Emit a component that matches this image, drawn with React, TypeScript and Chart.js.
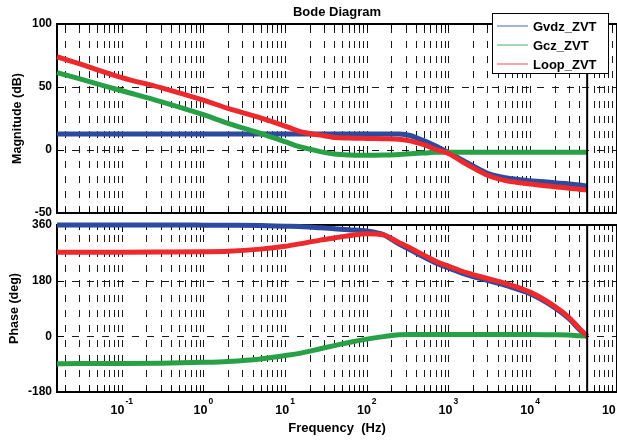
import React, { useEffect, useRef } from 'react';
import { Chart, registerables } from 'chart.js';

Chart.register(...registerables);

const FONT = "'Liberation Sans', Arial, Helvetica, sans-serif";

// ---- data ----
const freqHz = [0.0161, 0.03, 0.1, 0.3, 1, 2, 5, 10, 15, 27, 40, 60, 100, 160, 250, 340, 420, 550, 700, 1000, 1700, 3000, 5000, 10000, 20000, 30000, 40000, 50000];

const gvdzMagDb = [12.7, 12.7, 12.7, 12.7, 12.7, 12.7, 12.7, 12.7, 12.7, 12.7, 12.7, 12.7, 12.7, 12.7, 12.6, 11.5, 9.3, 6.3, 3.2, -2, -10.1, -18.5, -22, -24.4, -25.9, -27, -27.8, -28.6];
const gczMagDb = [61.4, 56.6, 47, 38.4, 28, 21.2, 13.2, 6.6, 2.6, -1.3, -3.2, -4, -4.2, -4, -3.5, -3, -2.6, -2.3, -1.8, -1.8, -1.8, -1.8, -1.8, -1.8, -1.8, -1.8, -1.8, -1.8];
const loopMagDb = [74, 68.5, 57.5, 49.5, 39.5, 33, 25.5, 19, 14.8, 11.8, 10, 9.5, 9.2, 9, 8.5, 7.2, 5.6, 3.2, 0.5, -2.8, -11.6, -20, -24.3, -27, -29.1, -30.4, -31.1, -31.7];

const gvdzPhaseDeg = [360, 360, 360, 360, 359.5, 359, 358, 356, 355, 351, 348, 345, 341, 329, 298, 280, 267, 251, 237, 221, 199, 181, 165, 138, 93, 57, 22, -1];
const gczPhaseDeg = [-88.5, -88, -88, -87, -84, -81, -73, -62, -55, -40, -30, -20, -9, -1, 5, 6, 6, 6, 6, 6, 6, 6, 6, 6, 5, 4, 2, 1];
const loopPhaseDeg = [271.5, 272, 272, 272.5, 273.5, 275, 282, 291, 299, 311, 318, 325, 332, 328, 303, 286, 273, 257, 243, 227, 205, 187, 171, 143, 97, 61, 26, 1];

const seriesLabels = ['Gvdz_ZVT', 'Gcz_ZVT', 'Loop_ZVT'];
const seriesColors = ['#2c4aa0', '#27a046', '#ec2a2e'];
const legendColors = ['#8796d6', '#84cc94', '#f38a8c'];

const magTicks = [-50, 0, 50, 100];
const phaseTicks = [-180, 0, 180, 360];
const decadeExponents = [-1, 0, 1, 2, 3, 4, 5];
const freqMin = 0.0161;
const freqMax = 116000;
const endFreqHz = 50000;

const chartTitle = 'Bode Diagram';
const magTitle = 'Magnitude (dB)';
const phaseTitle = 'Phase (deg)';
const freqTitle = 'Frequency  (Hz)';

// grid positions for a log axis (1..9 x 10^k)
const gridLines: { v: number; major: boolean }[] = [];
for (let k = -2; k <= 5; k++) {
  for (let m = 1; m <= 9; m++) {
    const v = m * Math.pow(10, k);
    if (v > freqMin && v < freqMax) gridLines.push({ v, major: m === 1 });
  }
}

const bodeFrame = {
  id: 'bodeFrame',
  beforeDatasetsDraw(chart: any, _args: any, opts: any) {
    const { ctx, chartArea: a } = chart;
    const xs = chart.scales.x;
    const ys = chart.scales.y;
    ctx.save();
    ctx.strokeStyle = '#1a1a1a';
    ctx.lineWidth = 1;
    ctx.setLineDash([7, 8]);
    gridLines.forEach((g) => {
      const px = Math.round(xs.getPixelForValue(g.v)) + 0.5;
      ctx.beginPath();
      ctx.moveTo(px, a.bottom);
      ctx.lineTo(px, a.top);
      ctx.stroke();
    });
    (opts.yTicks as number[]).forEach((t) => {
      const py = Math.round(ys.getPixelForValue(t)) + 0.5;
      ctx.beginPath();
      ctx.moveTo(a.left, py);
      ctx.lineTo(a.right, py);
      ctx.stroke();
    });
    ctx.setLineDash([]);
    ctx.strokeStyle = '#000';
    gridLines.forEach((g) => {
      const px = Math.round(xs.getPixelForValue(g.v)) + 0.5;
      const len = g.major ? 7 : 5;
      ctx.beginPath();
      ctx.moveTo(px, a.bottom);
      ctx.lineTo(px, a.bottom - len);
      ctx.moveTo(px, a.top);
      ctx.lineTo(px, a.top + len);
      ctx.stroke();
    });
    (opts.yTicks as number[]).forEach((t) => {
      const py = Math.round(ys.getPixelForValue(t)) + 0.5;
      ctx.beginPath();
      ctx.moveTo(a.left, py);
      ctx.lineTo(a.left + 7, py);
      ctx.stroke();
    });
    ctx.lineWidth = 2;
    ctx.strokeRect(Math.round(a.left), Math.round(a.top), Math.round(a.right - a.left), Math.round(a.bottom - a.top));
    ctx.restore();
  },
  afterDraw(chart: any, _args: any, opts: any) {
    const { ctx, chartArea: a } = chart;
    ctx.save();
    ctx.fillStyle = '#000';
    ctx.textBaseline = 'alphabetic';
    if (opts.title) {
      ctx.font = `bold 13px ${FONT}`;
      ctx.textAlign = 'center';
      ctx.fillText(opts.title, (a.left + a.right) / 2, a.top - 8);
    }
    if (opts.legend) {
      const left = Math.round(a.right) - 125;
      const top = Math.round(a.top) - 11;
      const w = 116;
      const h = 60;
      ctx.fillStyle = '#fff';
      ctx.fillRect(left, top, w, h);
      ctx.strokeStyle = '#000';
      ctx.lineWidth = 1;
      ctx.strokeRect(left + 0.5, top + 0.5, w, h);
      ctx.font = `bold 13px ${FONT}`;
      ctx.textAlign = 'left';
      ctx.textBaseline = 'middle';
      seriesLabels.forEach((lab, i) => {
        const cy = top + 13 + i * 19;
        ctx.strokeStyle = legendColors[i];
        ctx.lineWidth = 1.5;
        ctx.beginPath();
        ctx.moveTo(left + 5, cy);
        ctx.lineTo(left + 36, cy);
        ctx.stroke();
        ctx.fillStyle = '#000';
        ctx.fillText(lab, left + 41, cy + 1);
      });
    }
    if (opts.xLabels) {
      const xs = chart.scales.x;
      ctx.textAlign = 'left';
      ctx.textBaseline = 'alphabetic';
      decadeExponents.forEach((e) => {
        const px = xs.getPixelForValue(Math.pow(10, e));
        ctx.font = `bold 12.5px ${FONT}`;
        const w1 = ctx.measureText('10').width;
        ctx.font = `bold 8.5px ${FONT}`;
        const expText = String(e);
        const w2 = ctx.measureText(expText).width;
        const start = px - (w1 + 1 + w2) / 2;
        ctx.font = `bold 12.5px ${FONT}`;
        ctx.fillText('10', start, a.bottom + 22);
        ctx.font = `bold 8.5px ${FONT}`;
        ctx.fillText(expText, start + w1 + 1, a.bottom + 12);
      });
      ctx.font = `bold 13px ${FONT}`;
      ctx.textAlign = 'center';
      ctx.fillText(freqTitle, (a.left + a.right) / 2, a.bottom + 40);
    }
    ctx.restore();
  },
};

function toPoints(ys: number[]) {
  return freqHz.map((f, i) => ({ x: f, y: ys[i] }));
}

function makeConfig(series: number[][], yTicks: number[], yTitle: string, titlePad: number, padding: any, frameOpts: any) {
  const datasets: any[] = series.map((ys, i) => ({
    label: seriesLabels[i],
    data: toPoints(ys),
    borderColor: seriesColors[i],
    backgroundColor: seriesColors[i],
    borderWidth: 5,
    pointRadius: 0,
    cubicInterpolationMode: 'monotone',
    order: i === 2 ? 0 : i === 1 ? 1 : 2,
    clip: false,
    borderCapStyle: 'butt',
  }));
  datasets.push({
    label: 'end',
    data: [
      { x: endFreqHz, y: yTicks[0] },
      { x: endFreqHz, y: yTicks[yTicks.length - 1] },
    ],
    borderColor: '#000',
    borderWidth: 2,
    pointRadius: 0,
    order: -1,
  });
  return {
    type: 'line',
    data: { datasets },
    plugins: [bodeFrame],
    options: {
      responsive: false,
      maintainAspectRatio: false,
      animation: false,
      devicePixelRatio: 1,
      events: [],
      layout: { padding },
      scales: {
        x: {
          type: 'logarithmic',
          min: freqMin,
          max: freqMax,
          display: false,
        },
        y: {
          type: 'linear',
          min: yTicks[0],
          max: yTicks[yTicks.length - 1],
          afterBuildTicks: (s: any) => {
            s.ticks = yTicks.map((v) => ({ value: v }));
          },
          afterFit: (s: any) => {
            s.width = 57;
            s.paddingTop = 0;
            s.paddingBottom = 0;
          },
          grid: { display: false, drawTicks: false },
          border: { display: false },
          ticks: {
            color: '#000',
            padding: 5,
            font: { family: FONT, size: 12, weight: 'bold' },
          },
          title: {
            display: true,
            text: yTitle,
            color: '#000',
            font: { family: FONT, size: 12.5, weight: 'bold' },
            padding: { top: titlePad, bottom: 0 },
          },
        },
      },
      plugins: {
        legend: { display: false },
        tooltip: { enabled: false },
        bodeFrame: frameOpts,
      },
    },
  };
}

export default function App() {
  const magRef = useRef<HTMLCanvasElement | null>(null);
  const phaseRef = useRef<HTMLCanvasElement | null>(null);

  useEffect(() => {
    const magChart = new Chart(
      magRef.current as HTMLCanvasElement,
      makeConfig(
        [gvdzMagDb, gczMagDb, loopMagDb],
        magTicks,
        magTitle,
        10,
        { top: 24, bottom: 5, left: 0, right: 13 },
        { yTicks: magTicks, title: chartTitle, legend: true }
      ) as any
    );
    const phaseChart = new Chart(
      phaseRef.current as HTMLCanvasElement,
      makeConfig(
        [gvdzPhaseDeg, gczPhaseDeg, loopPhaseDeg],
        phaseTicks,
        phaseTitle,
        7,
        { top: 7, bottom: 48, left: 0, right: 13 },
        { yTicks: phaseTicks, xLabels: true }
      ) as any
    );
    return () => {
      magChart.destroy();
      phaseChart.destroy();
    };
  }, []);

  return (
    <div
      style={{
        position: 'fixed',
        left: 0,
        top: 0,
        width: 617,
        height: 440,
        overflow: 'hidden',
        background: '#fff',
      }}
    >
      <canvas ref={magRef} width={630} height={218} style={{ position: 'absolute', left: 0, top: 0 }} />
      <canvas ref={phaseRef} width={630} height={222} style={{ position: 'absolute', left: 0, top: 218 }} />
    </div>
  );
}
